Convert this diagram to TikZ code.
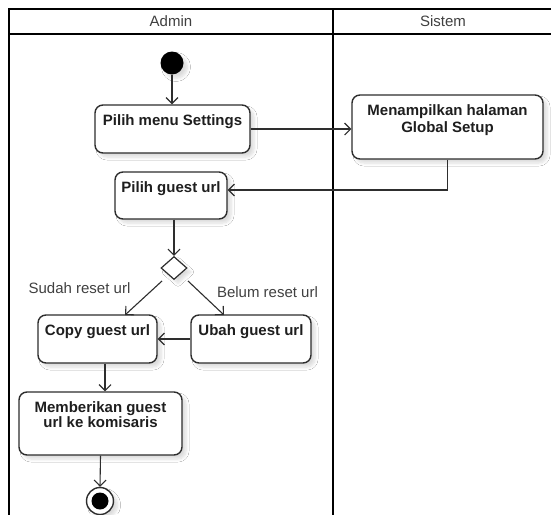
\documentclass[tikz,border=0pt]{standalone}
\usepackage{fontspec}
\setmainfont{Liberation Sans}
\usetikzlibrary{arrows.meta,shapes.geometric,shadows.blur,calc}

\definecolor{ink}{HTML}{1E1E1E}
\definecolor{edge}{HTML}{2E2E2E}

\tikzset{
  soft/.style={blur shadow={shadow xshift=4pt, shadow yshift=-4pt,
    shadow blur radius=3pt, shadow blur steps=6, shadow opacity=14}},
  act/.style={draw=edge, line width=1.4pt, rounded corners=8pt, fill=white,
    inner sep=0pt, soft},
  acttxt/.style={font=\fontsize{15}{16}\selectfont\bfseries, text=ink,
    anchor=base, inner sep=0pt},
  lanetxt/.style={font=\fontsize{15}{16}\selectfont, text=ink!85, anchor=base, inner sep=0pt},
  guard/.style={font=\fontsize{15}{16}\selectfont, text=ink!85, anchor=base, inner sep=0pt},
  flow/.style={draw=edge, line width=1.1pt,
    -{Straight Barb[length=6pt, width=12pt, line width=1.1pt]}},
  lane/.style={draw=black, line width=2pt},
}

\begin{document}
\begin{tikzpicture}[x=1pt, y=-1pt]
\useasboundingbox (0,0) rectangle (551,514);
\clip (0,0) rectangle (551,514);
\fill[white] (0,0) rectangle (551,514);

% swimlanes
\draw[lane] (9,9) rectangle (580,540);
\draw[lane] (9,34) -- (580,34);
\draw[lane] (333,9) -- (333,540);
\node[lanetxt] (h-admin) at (171,27) {Admin};
\node[lanetxt] (h-sistem) at (443,27) {Sistem};

% initial and final states
\node[circle, fill=black, minimum size=23pt, inner sep=0pt, soft]
  (start) at (172,63) {};
\node[circle, draw=edge, line width=1.4pt, fill=white, minimum size=27pt, inner sep=0pt, soft]
  (end) at (100,501) {};
\node[circle, fill=black, minimum size=17pt, inner sep=0pt] (end-dot) at (end) {};

% activities
\node[act, minimum width=155pt, minimum height=48pt] (settings) at (172.5,129) {};
\node[acttxt] (settings-t) at (172.5,125) {Pilih menu Settings};

\node[act, minimum width=191pt, minimum height=64pt] (global) at (447.5,127) {};
\node[acttxt] (global-t1) at (447.5,115) {Menampilkan halaman};
\node[acttxt] (global-t2) at (447.5,132) {Global Setup};

\node[act, minimum width=112pt, minimum height=47pt] (guest) at (171,195.5) {};
\node[acttxt] (guest-t) at (171,192) {Pilih guest url};

\node[diamond, draw=edge, line width=1.2pt, fill=white, minimum width=26pt,
  minimum height=23pt, inner sep=0pt, soft]
  (dec) at (174,268) {};

\node[act, minimum width=119pt, minimum height=48pt] (copy) at (97.5,339) {};
\node[acttxt] (copy-t) at (97.5,335) {Copy guest url};

\node[act, minimum width=120pt, minimum height=48pt] (ubah) at (251,339) {};
\node[acttxt] (ubah-t) at (251,335) {Ubah guest url};

\node[act, minimum width=163pt, minimum height=63pt] (give) at (100.5,423.5) {};
\node[acttxt] (give-t1) at (100.5,412) {Memberikan guest};
\node[acttxt] (give-t2) at (100.5,427) {url ke komisaris};

% guards
\node[guard] (g-sudah) at (79.5,293) {Sudah reset url};
\node[guard] (g-belum) at (267.5,297) {Belum reset url};

% branch end points
\coordinate (dl) at (162,281);
\coordinate (dr) at (188,281);
\coordinate (cin) at (125,315);
\coordinate (uin) at (224,315);
\coordinate (gin) at ($(guest.east)+(0,-5.5)$);
\coordinate (cout) at ($(copy.south)+(7.5,0)$);

% control flow
\draw[flow] (start) -- (start |- settings.north);
\draw[flow] (settings.east) -- (settings.east -| global.west);
\draw[flow] (global.south) |- (gin);
\draw[flow] (dec.north |- guest.south) -- (dec.north);
\draw[flow] (dl) -- (cin);
\draw[flow] (dr) -- (uin);
\draw[flow] (ubah.west) -- (copy.east);
\draw[flow] (cout) -- (cout |- give.north);
\draw[flow] (give.south) -- (end.north);
\end{tikzpicture}
\end{document}
